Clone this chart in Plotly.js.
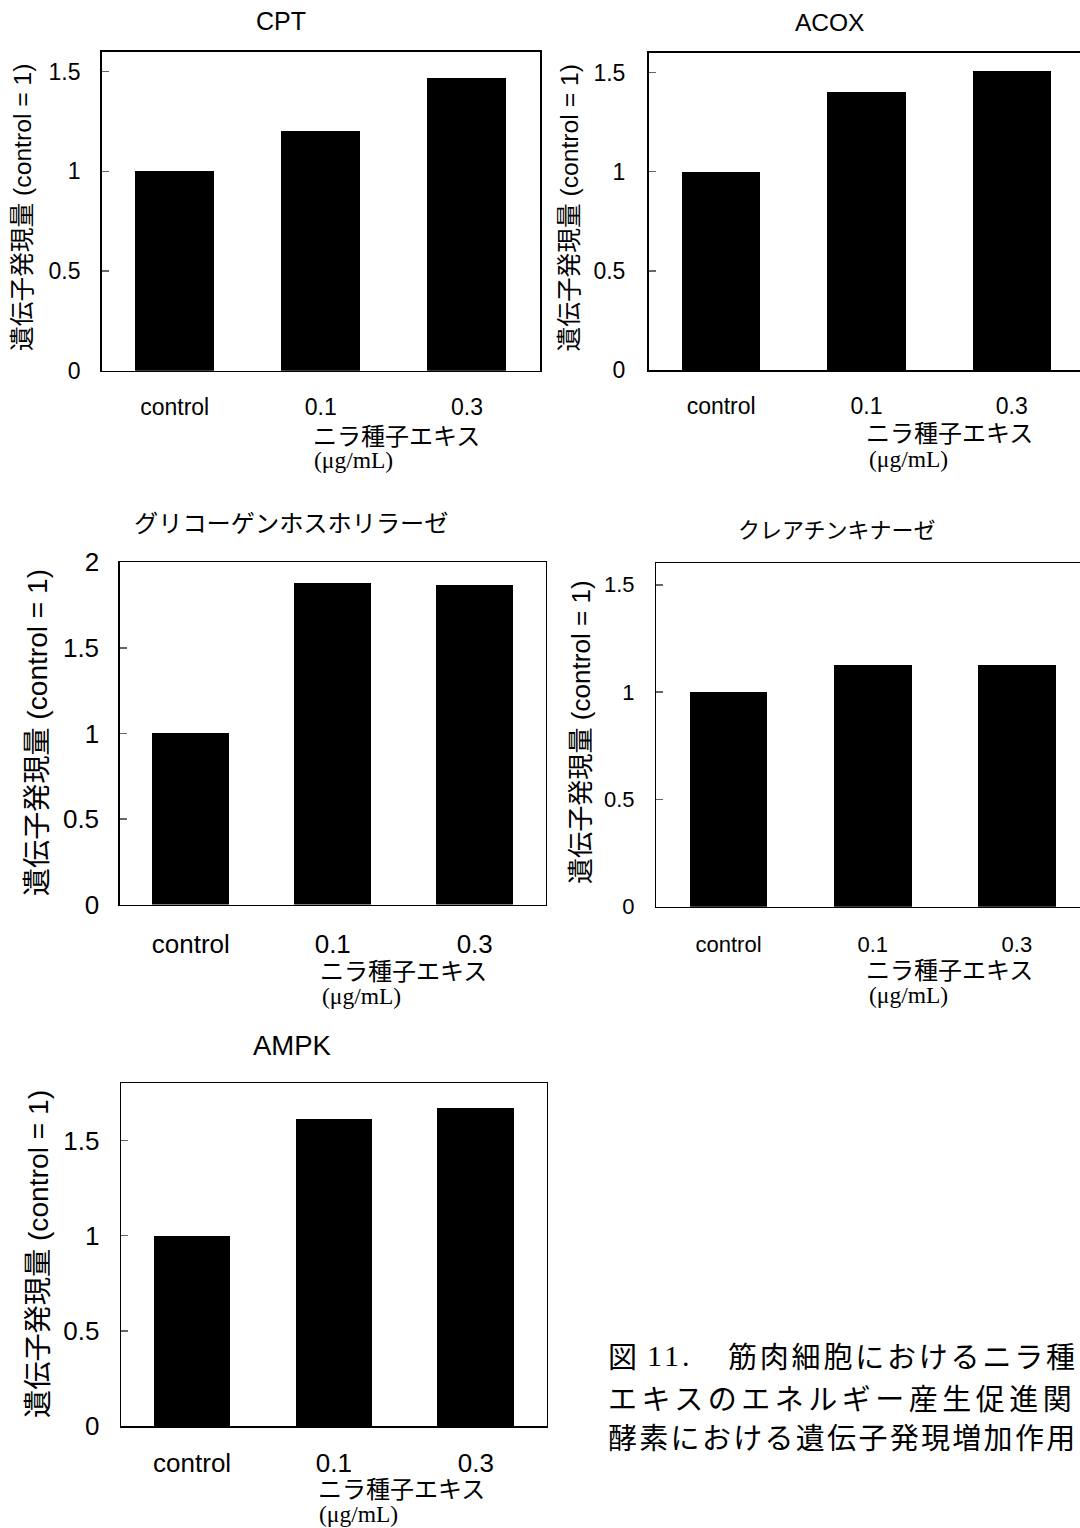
<!DOCTYPE html>
<html><head><meta charset="utf-8">
<script src="https://cdn.plot.ly/plotly-3.0.1.min.js"></script>
<style>
html,body{margin:0;padding:0;background:#fff;overflow:hidden;width:1080px;height:1528px}
#wrap{width:1080px;height:1528px;overflow:hidden;position:relative}
#chart{width:1100px;height:1528px}
</style></head>
<body><div id="wrap"><div id="chart"></div></div>
<script>
// ---- data ----
const categories = ['control', '0.1', '0.3'];
const cptValues  = [1.00, 1.20, 1.47];
const acoxValues = [1.00, 1.40, 1.51];
const gpValues   = [1.00, 1.88, 1.87];
const ckValues   = [1.00, 1.125, 1.125];
const ampkValues = [1.00, 1.61, 1.67];
const panelTitles = ['CPT', 'ACOX', 'グリコーゲンホスホリラーゼ', 'クレアチンキナーゼ', 'AMPK'];
const yAxisTitle = '遺伝子発現量 (control = 1)';
const xAxisTitle = 'ニラ種子エキス';
const unitLabel = '(μg/mL)';
const captionLines = ['筋肉細胞におけるニラ種', 'エキスのエネルギー産生促進関', '酵素における遺伝子発現増加作用'];
const captionFig = '図';
const captionNum = '11.';

// ---- layout (pixel geometry) ----
const W = 1100, H = 1528;
const SANS = 'Liberation Sans, Arial, Noto Sans CJK JP, sans-serif';
const SERIF = 'Liberation Serif, Times New Roman, serif';
const px = v => v / W;
const py = v => 1 - v / H;

const panels = [
  {values: cptValues,  title: panelTitles[0], box: [101.6, 540, 51.7, 370.7], yr: [0, 1.6], tick: 23, ys: 15, xs: 15,
   t: [280.6, 21, 25], yt: [22.4, 207.5, 24.7], xt: [396, 436.7], u: [311.6, 460]},
  {values: acoxValues, title: panelTitles[1], box: [648.5, 1084.4, 52.7, 370], yr: [0, 1.6], tick: 23, ys: 17, xs: 15,
   t: [829, 22, 24.5], yt: [569, 207.5, 24.7], xt: [949, 433], u: [867, 459]},
  {values: gpValues,   title: panelTitles[2], box: [119.8, 545.7, 562.3, 904.5], yr: [0, 2], tick: 26, ys: 14, xs: 16,
   t: [291, 523, 24.2], yt: [37, 733, 28.1], xt: [403.7, 971], u: [320, 996]},
  {values: ckValues,   title: panelTitles[3], box: [656.4, 1089, 563.3, 906.7], yr: [0, 1.6], tick: 22, ys: 16, xs: 17,
   t: [837, 530, 22], yt: [580.5, 732.5, 26.1], xt: [949, 970], u: [867, 995]},
  {values: ampkValues, title: panelTitles[4], box: [121.2, 546.7, 1083.3, 1426], yr: [0, 1.8], tick: 26, ys: 15, xs: 13,
   t: [292.7, 1045, 27.5], yt: [38, 1254, 28.2], xt: [401, 1489], u: [317, 1514]}
];

const traces = [];
const layout = {
  width: W, height: H, margin: {l: 0, r: 0, t: 0, b: 0},
  paper_bgcolor: '#fff', plot_bgcolor: '#fff',
  showlegend: false, font: {family: SANS, color: '#000'},
  annotations: [], bargap: 0
};

panels.forEach((p, i) => {
  const n = i === 0 ? '' : String(i + 1);
  traces.push({
    type: 'bar', x: categories, y: p.values, xaxis: 'x' + n, yaxis: 'y' + n,
    width: 0.54, marker: {color: '#000', line: {width: 0}}, hoverinfo: 'skip'
  });
  const [l, r, t, b] = p.box;
  layout['xaxis' + n] = {
    domain: [px(l), px(r)], anchor: 'y' + n, type: 'category', range: [-0.5, 2.5],
    showline: true, mirror: true, linecolor: '#000', linewidth: 1.5,
    ticks: '', showgrid: false, zeroline: false, fixedrange: true,
    tickfont: {family: SANS, size: p.tick, color: '#000'}, ticklabelstandoff: p.xs
  };
  layout['yaxis' + n] = {
    domain: [py(b), py(t)], anchor: 'x' + n, range: p.yr, tick0: 0, dtick: 0.5,
    showline: true, mirror: true, linecolor: '#000', linewidth: 1.5,
    ticks: 'inside', ticklen: 7, tickwidth: 1.5, tickcolor: '#666',
    showgrid: false, zeroline: false, fixedrange: true,
    tickfont: {family: SANS, size: p.tick, color: '#000'}, ticklabelstandoff: p.ys
  };
  const A = layout.annotations;
  A.push({xref: 'paper', yref: 'paper', x: px(p.t[0]), y: py(p.t[1]), xanchor: 'center', yanchor: 'middle',
          showarrow: false, text: p.title, font: {family: SANS, size: p.t[2], color: '#000'}});
  A.push({xref: 'paper', yref: 'paper', x: px(p.yt[0]), y: py(p.yt[1]), xanchor: 'center', yanchor: 'middle',
          showarrow: false, textangle: -90, text: yAxisTitle, font: {family: SANS, size: p.yt[2], color: '#000'}});
  A.push({xref: 'paper', yref: 'paper', x: px(p.xt[0]), y: py(p.xt[1]), xanchor: 'center', yanchor: 'middle',
          showarrow: false, text: xAxisTitle, font: {family: SANS, size: 24, color: '#000'}});
  A.push({xref: 'paper', yref: 'paper', x: px(p.u[0]), y: py(p.u[1]), xanchor: 'left', yanchor: 'middle',
          showarrow: false, text: unitLabel, font: {family: SERIF, size: 23.5, color: '#000'}});
});

// caption
const CAP = 'Noto Sans CJK JP, sans-serif';
const A = layout.annotations;
A.push({xref: 'paper', yref: 'paper', x: px(606), y: py(1355), xanchor: 'left', yanchor: 'middle', showarrow: false,
        text: captionFig, font: {family: CAP, size: 29, color: '#000'}});
A.push({xref: 'paper', yref: 'paper', x: px(645), y: py(1355), xanchor: 'left', yanchor: 'middle', showarrow: false,
        text: '<span style="letter-spacing:3px">' + captionNum + '</span>', font: {family: SERIF, size: 30, color: '#000'}});
const capX = [726, 606, 606], capY = [1355, 1397, 1436], capLS = [2.8, 4.5, 2.3];
captionLines.forEach((s, i) => {
  A.push({xref: 'paper', yref: 'paper', x: px(capX[i]), y: py(capY[i]), xanchor: 'left', yanchor: 'middle', showarrow: false,
          text: '<span style="letter-spacing:' + capLS[i] + 'px">' + s + '</span>', font: {family: CAP, size: 29, color: '#000'}});
});

Plotly.newPlot('chart', traces, layout, {staticPlot: true, displayModeBar: false});
</script>
</body></html>
